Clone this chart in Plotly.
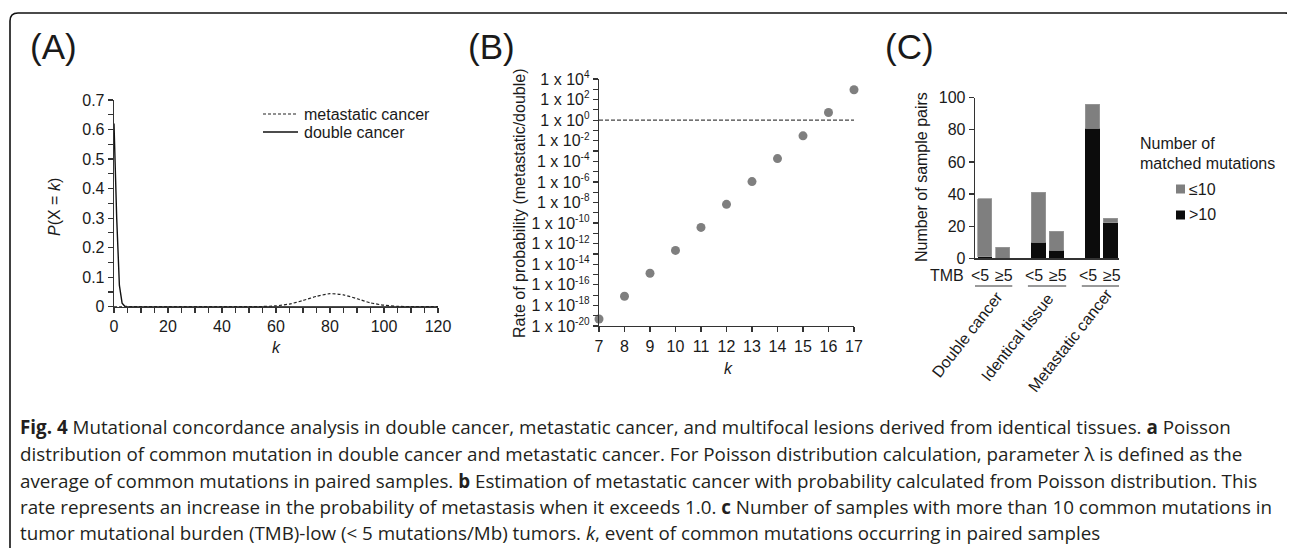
import plotly.graph_objects as go

# The page body has an 8 px margin, so the figure is drawn 8 px right/down of the window corner.
OFF = 8
W, H = 1295 - OFF, 548 - OFF

# ---------------- data ----------------
# Panel A: Poisson probability P(X = k)
met_k = [0, 20, 40, 50, 55, 60, 65, 70, 75, 80, 85, 90, 95, 100, 105, 110, 120]
met_p = [0, 0, 0, 0, 0.0006, 0.003, 0.009, 0.021, 0.035, 0.044, 0.040, 0.027, 0.013, 0.005, 0.0013, 0.0002, 0]
dc_k = [0, 1, 2, 3, 4, 5, 120]
dc_p = [0.62, 0.30, 0.072, 0.012, 0.0015, 0, 0]

# Panel B: rate of probability (metastatic/double)
b_k = [7, 8, 9, 10, 11, 12, 13, 14, 15, 16, 17]
b_rate = [4.8e-20, 7.8e-18, 1.35e-15, 2.2e-13, 3.8e-11, 6.6e-9, 1.07e-6, 1.86e-4, 3.0e-2, 5.6, 9.1e2]
b_major_exp = [-20, -18, -16, -14, -12, -10, -8, -6, -4, -2, 0, 2, 4]
b_minor_exp = [-19, -17, -15, -13, -11, -9, -7, -5, -3, -1, 1, 3]
b_ticktext = ['1 x 10<sup><span style="font-size:10px">%d</span></sup>' % e for e in b_major_exp]

# Panel C: number of sample pairs
groups = ["Double cancer", "Identical tissue", "Metastatic cancer"]
tmb_labels = ["<5", "≥5"]
gt10 = [1, 0, 10, 5, 81, 22]     # >10 matched mutations
le10 = [36, 7, 31, 12, 15, 3]    # <=10 matched mutations

caption_lines = [
    "<b>Fig. 4</b> Mutational concordance analysis in double cancer, metastatic cancer, and multifocal lesions derived from identical tissues. <b>a</b> Poisson",
    "distribution of common mutation in double cancer and metastatic cancer. For Poisson distribution calculation, parameter λ is defined as the",
    "average of common mutations in paired samples. <b>b</b> Estimation of metastatic cancer with probability calculated from Poisson distribution. This",
    "rate represents an increase in the probability of metastasis when it exceeds 1.0. <b>c</b> Number of samples with more than 10 common mutations in",
    "tumor mutational burden (TMB)-low (&lt; 5 mutations/Mb) tumors. <i>k</i>, event of common mutations occurring in paired samples",
]

# ---------------- helpers (window pixel -> paper) ----------------
def PX(x):
    return (x - OFF) / W


def PY(y):
    return 1 - (y - OFF) / H

FONT = "Liberation Sans, Arial, sans-serif"
TXT = "#1a1a1a"
AX = "#333333"
GRAY = "#7f7f7f"
BLACK = "#0c0c0c"
FS = 16

fig = go.Figure()

# Panel A
fig.add_trace(go.Scatter(x=met_k, y=met_p, mode="lines",
                         line=dict(color="#222", width=1.2, dash="3px,2px", shape="spline", smoothing=0.6),
                         xaxis="x", yaxis="y", showlegend=False, hoverinfo="skip"))
fig.add_trace(go.Scatter(x=dc_k, y=dc_p, mode="lines", line=dict(color="#111", width=1.4),
                         xaxis="x", yaxis="y", showlegend=False, hoverinfo="skip"))

# Panel B
fig.add_trace(go.Scatter(x=b_k, y=b_rate, mode="markers", marker=dict(color=GRAY, size=9),
                         xaxis="x2", yaxis="y2", showlegend=False, cliponaxis=False, hoverinfo="skip"))

# Panel C
xpos = []
for gi in range(len(groups)):
    for ti in range(len(tmb_labels)):
        xpos.append(gi + 1 + (ti - 0.5) * 0.334)
fig.add_trace(go.Bar(x=xpos, y=gt10, width=0.267, marker=dict(color=BLACK, line=dict(width=0)),
                     xaxis="x3", yaxis="y3", showlegend=False, hoverinfo="skip"))
fig.add_trace(go.Bar(x=xpos, y=le10, width=0.267, marker=dict(color=GRAY, line=dict(width=0.8, color="#9a9a9a")),
                     xaxis="x3", yaxis="y3", showlegend=False, hoverinfo="skip"))

axis_common = dict(showline=True, linecolor=AX, linewidth=1.3, showgrid=False, zeroline=False,
                   ticks="outside", tickcolor=AX, tickwidth=1.2, ticklen=5,
                   tickfont=dict(family=FONT, size=FS, color=TXT), fixedrange=True)

fig.update_layout(
    width=W, height=H, margin=dict(l=0, r=0, t=0, b=0, autoexpand=False),
    paper_bgcolor="white", plot_bgcolor="rgba(0,0,0,0)", barmode="stack", bargap=0,
    xaxis=dict(axis_common, domain=[PX(114), PX(438)], range=[0, 120], tickvals=[0, 20, 40, 60, 80, 100, 120],
               minor=dict(dtick=5, ticks="outside", ticklen=5, tickcolor=AX, tickwidth=1.2), anchor="y"),
    yaxis=dict(axis_common, domain=[PY(306.7), PY(100)], range=[0, 0.7], dtick=0.1,
               minor=dict(dtick=0.05, ticks="outside", ticklen=5, tickcolor=AX, tickwidth=1.2), anchor="x"),
    xaxis2=dict(axis_common, domain=[PX(599), PX(854)], range=[7, 17], dtick=1, anchor="y2"),
    yaxis2=dict(axis_common, domain=[PY(326), PY(79)], type="log", range=[-20, 4],
                tickmode="array", tickvals=[10.0 ** e for e in b_major_exp], ticktext=b_ticktext,
                tickfont=dict(family=FONT, size=16, color=TXT),
                minor=dict(tickmode="array", tickvals=[10.0 ** e for e in b_minor_exp], ticks="outside", ticklen=5,
                           tickcolor=AX, tickwidth=1.2), anchor="x2"),
    xaxis3=dict(axis_common, domain=[PX(975), PX(1119)], range=[0.653, 3.325], ticks="", showticklabels=False, anchor="y3"),
    yaxis3=dict(axis_common, domain=[PY(258.3), PY(97.7)], range=[0, 100], dtick=20, anchor="x3"),
)

shapes = []
ann = []


def text(x, y, s, size=FS, angle=0, xanchor="center", family=FONT, color=TXT, xref="paper"):
    ann.append(dict(x=x if xref != "paper" else PX(x), y=PY(y), xref=xref, yref="paper", text=s, showarrow=False,
                    textangle=angle, xanchor=xanchor, yanchor="middle",
                    font=dict(family=family, size=size, color=color)))

# frame
x0, x1, y0, yb, r = 10, 1293, 13, 620, 8
path = "M %f,%f L %f,%f Q %f,%f %f,%f L %f,%f Q %f,%f %f,%f L %f,%f" % (
    PX(x0), PY(yb), PX(x0), PY(y0 + r), PX(x0), PY(y0), PX(x0 + r), PY(y0),
    PX(x1 - r), PY(y0), PX(x1), PY(y0), PX(x1), PY(y0 + r), PX(x1), PY(yb))
shapes.append(dict(type="path", path=path, xref="paper", yref="paper", line=dict(color="#111", width=1.6)))

# panel labels
text(28, 46, "(A)", size=35, xanchor="left")
text(466, 46, "(B)", size=35, xanchor="left")
text(883, 46, "(C)", size=35, xanchor="left")

# Panel A titles + legend
text(55, 207, "<i>P</i>(X = <i>k</i>)", angle=-90)
text(276, 347, "<i>k</i>")
shapes.append(dict(type="line", xref="paper", yref="paper", x0=PX(263), x1=PX(298), y0=PY(114), y1=PY(114),
                   line=dict(color="#222", width=1.2, dash="3px,2px")))
shapes.append(dict(type="line", xref="paper", yref="paper", x0=PX(263), x1=PX(298), y0=PY(132), y1=PY(132),
                   line=dict(color="#111", width=1.4)))
text(302, 114, "metastatic cancer", xanchor="left")
text(302, 132, "double cancer", xanchor="left")

# Panel B titles + reference line
text(520, 204, "Rate of probability (metastatic/double)", angle=-90)
text(728, 368, "<i>k</i>")
shapes.append(dict(type="line", xref="x2 domain", yref="y2", x0=0, x1=1, y0=1, y1=1,
                   line=dict(color="#444", width=1.2, dash="4px,2px")))

# Panel C titles, TMB labels, group labels, legend
text(922, 177, "Number of sample pairs", angle=-90)
text(947, 275, "TMB")
for i, xp in enumerate(xpos):
    shift = -0.085 if i % 2 == 0 else 0.02
    text(xp + shift, 275, tmb_labels[i % 2], xref="x3")
for gi in range(len(groups)):
    shapes.append(dict(type="line", xref="x3", yref="paper", x0=gi + 1 - 0.365, x1=gi + 1 + 0.345, y0=PY(286), y1=PY(286),
                       line=dict(color="#777", width=1.6)))
group_centers = [(967, 334), (1017, 337), (1070, 340)]
for g, (cx, cy) in zip(groups, group_centers):
    text(cx, cy, g, angle=-52)
text(1138, 144, "Number of", xanchor="left")
text(1138, 164, "matched mutations", xanchor="left")
for yy, col, lab in [(189, GRAY, "≤10"), (215, BLACK, "&gt;10")]:
    shapes.append(dict(type="rect", xref="paper", yref="paper", x0=PX(1176), x1=PX(1185), y0=PY(yy - 4.5), y1=PY(yy + 4.5),
                       fillcolor=col, line=dict(width=0)))
    text(1187, yy, lab, xanchor="left")

# caption
cap_y = [427, 454, 481, 507, 533]
for s, yy in zip(caption_lines, cap_y):
    text(18, yy, s, size=18.8, xanchor="left", family="Open Sans, sans-serif", color="#231f20")

fig.update_layout(shapes=shapes, annotations=ann)
fig.write_html("out.html", config={"displayModeBar": False, "staticPlot": True})
